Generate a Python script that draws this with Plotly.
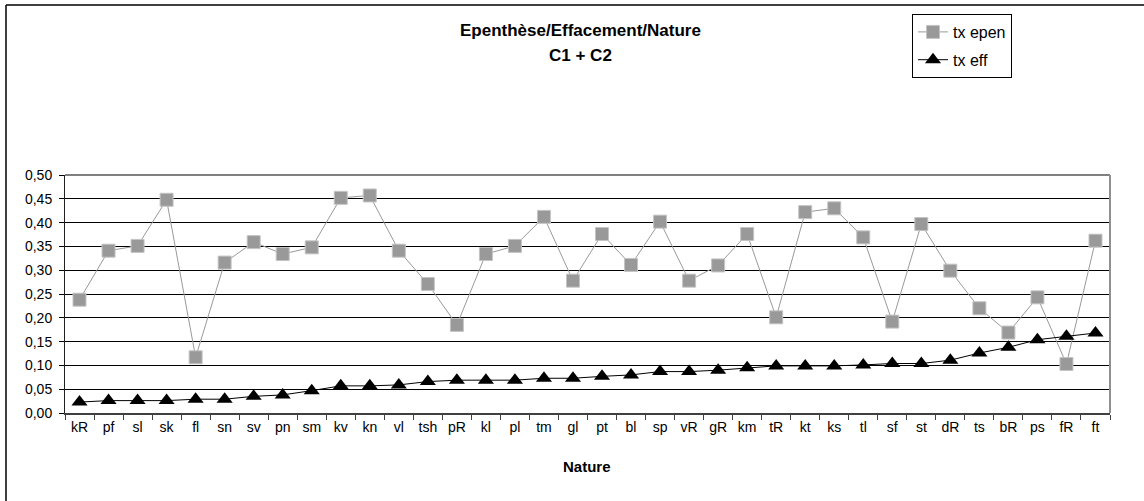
import plotly.graph_objects as go

categories = ["kR", "pf", "sl", "sk", "fl", "sn", "sv", "pn", "sm", "kv", "kn", "vl",
              "tsh", "pR", "kl", "pl", "tm", "gl", "pt", "bl", "sp", "vR", "gR", "km",
              "tR", "kt", "ks", "tl", "sf", "st", "dR", "ts", "bR", "ps", "fR", "ft"]

tx_epen = [0.238, 0.341, 0.351, 0.448, 0.117, 0.316, 0.359, 0.334, 0.348, 0.452, 0.457, 0.341,
           0.271, 0.185, 0.334, 0.351, 0.412, 0.278, 0.376, 0.311, 0.402, 0.278, 0.310, 0.376,
           0.201, 0.422, 0.430, 0.369, 0.192, 0.397, 0.299, 0.220, 0.169, 0.243, 0.103, 0.362]

tx_eff = [0.023, 0.026, 0.026, 0.026, 0.029, 0.029, 0.035, 0.038, 0.047, 0.057, 0.057, 0.059,
          0.066, 0.069, 0.069, 0.069, 0.073, 0.073, 0.077, 0.080, 0.087, 0.087, 0.090, 0.095,
          0.099, 0.099, 0.099, 0.101, 0.104, 0.104, 0.111, 0.126, 0.138, 0.154, 0.161, 0.168]

y_ticks = [0.0, 0.05, 0.10, 0.15, 0.20, 0.25, 0.30, 0.35, 0.40, 0.45, 0.50]

title_lines = ["Epenthèse/Effacement/Nature", "C1 + C2"]
x_title = "Nature"

FONT = "Liberation Sans, Arial, sans-serif"

fig = go.Figure()
fig.add_trace(go.Scatter(
    x=categories, y=tx_epen, name="tx epen", mode="lines+markers",
    line=dict(color="#999999", width=1),
    marker=dict(symbol="square", size=13, color="#999999",
                line=dict(color="#c4c4c4", width=1)),
    legendgroup="a",
))
fig.add_trace(go.Scatter(
    x=categories, y=tx_eff, name="tx eff", mode="lines+markers",
    line=dict(color="#000000", width=1),
    marker=dict(symbol="triangle-up", size=14, color="#000000"),
    legendgroup="b",
))

L, R, T, B = 65, 34, 175, 88
W, H = 1144, 501
pw, ph = W - L - R, H - T - B


def px_x(p):
    return (p - L) / pw


def px_y(p):
    return (H - B - p) / ph


annotations = [
    dict(text="<b>%s</b>" % title_lines[0], x=px_x(580), y=px_y(30),
         xref="paper", yref="paper", showarrow=False, xanchor="center", yanchor="middle",
         font=dict(family=FONT, size=17, color="black")),
    dict(text="<b>%s</b>" % title_lines[1], x=px_x(580), y=px_y(55),
         xref="paper", yref="paper", showarrow=False, xanchor="center", yanchor="middle",
         font=dict(family=FONT, size=17, color="black")),
    dict(text="<b>%s</b>" % x_title, x=px_x(587), y=px_y(466),
         xref="paper", yref="paper", showarrow=False, xanchor="center", yanchor="middle",
         font=dict(family=FONT, size=15, color="black")),
]

fig.update_layout(
    width=W, height=H,
    margin=dict(l=L, r=R, t=T, b=B),
    paper_bgcolor="white", plot_bgcolor="white",
    separators=",.",
    font=dict(family=FONT, size=14, color="black"),
    showlegend=True,
    legend=dict(
        x=px_x(912), y=px_y(14), xref="paper", yref="paper",
        xanchor="left", yanchor="top",
        bordercolor="black", borderwidth=1, bgcolor="white",
        font=dict(family=FONT, size=16, color="black"),
        traceorder="grouped", tracegroupgap=4,
        itemwidth=30,
    ),
    annotations=annotations,
    xaxis=dict(
        type="category", categoryorder="array", categoryarray=categories,
        showgrid=False, showline=True, linecolor="#404040", linewidth=1.5,
        ticks="outside", tickson="boundaries", ticklen=5, tickcolor="#404040",
        tickfont=dict(family=FONT, size=14, color="black"),
        range=[-0.5, len(categories) - 0.5],
    ),
    yaxis=dict(
        range=[0, 0.5], tickvals=y_ticks, tickformat=".2f",
        showgrid=True, gridcolor="#000000", gridwidth=1,
        showline=True, linecolor="#202020", linewidth=1,
        ticks="outside", ticklen=5, tickcolor="black",
        tickfont=dict(family=FONT, size=14, color="black"),
        ticklabelstandoff=4,
        zeroline=False,
    ),
    shapes=[
        dict(type="line", xref="paper", yref="paper", x0=0, x1=1, y0=1, y1=1,
             line=dict(color="#808080", width=2), layer="above"),
        dict(type="line", xref="paper", yref="paper", x0=1, x1=1, y0=0, y1=1,
             line=dict(color="#909090", width=2), layer="above"),
        dict(type="line", xref="paper", yref="paper",
             x0=px_x(6), x1=px_x(6), y0=px_y(5), y1=px_y(H + 5),
             line=dict(color="black", width=1.5)),
        dict(type="line", xref="paper", yref="paper",
             x0=px_x(6), x1=px_x(W + 5), y0=px_y(5), y1=px_y(5),
             line=dict(color="black", width=1.5)),
    ],
)

fig.write_html("out.html", config={"displayModeBar": False},
               post_script="document.body.style.margin='0px';")
